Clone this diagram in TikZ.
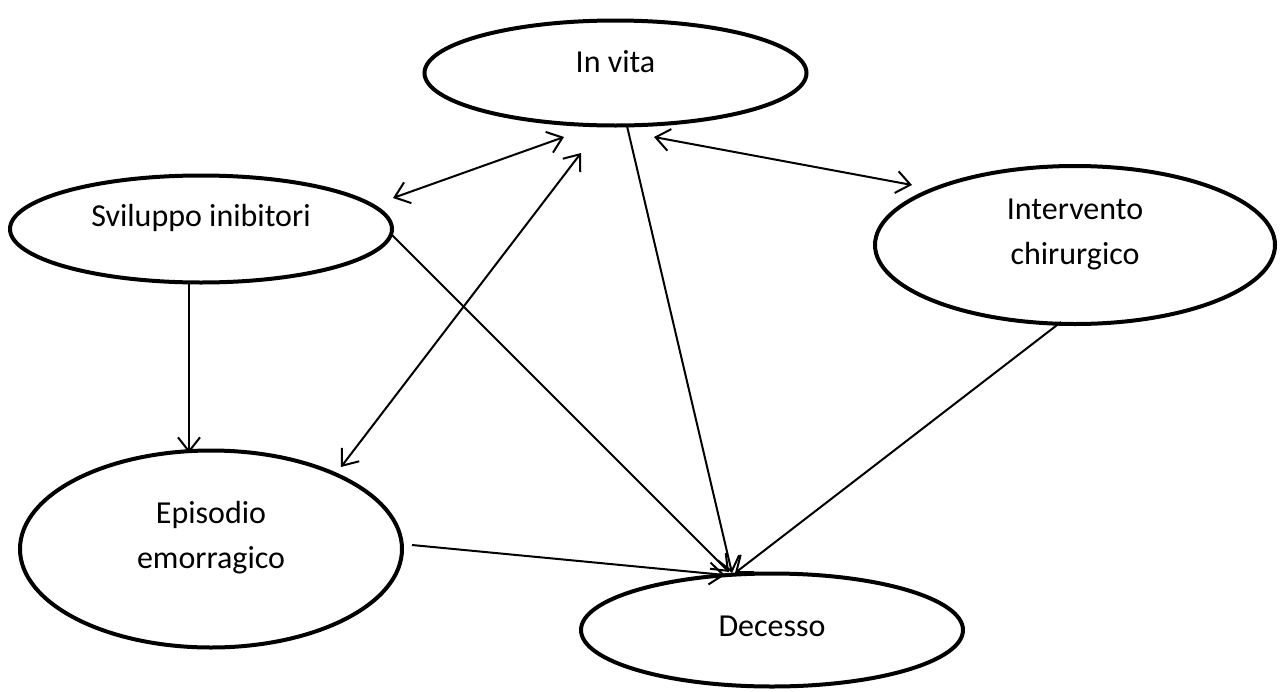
\documentclass[tikz,border=0pt]{standalone}
\usepackage{fontspec}
\setmainfont{Carlito}
\usetikzlibrary{shapes.geometric,arrows.meta,calc}
\begin{document}
\begin{tikzpicture}[x=1pt,y=-1pt,
  ell/.style={draw, ellipse, line width=4pt, inner sep=0pt},
  lbl/.style={align=center, font=\fontsize{32}{45}\selectfont, inner sep=0pt},
  conn/.style={line width=2pt, -{Straight Barb[length=14pt,width=22pt]}},
  bi/.style={line width=2pt, {Straight Barb[length=14pt,width=22pt]}-{Straight Barb[length=14pt,width=22pt]}}]
\useasboundingbox (0,0) rectangle (1280,691);

\node[ell, minimum width=382pt, minimum height=105pt] (iv) at (615.5,73) {};
\node[lbl] (ivt) at ($(iv)+(0,-11)$) {In vita};

\node[ell, minimum width=382pt, minimum height=107pt] (sv) at (201,229) {};
\node[lbl] (svt) at ($(sv)+(0,-11)$) {Sviluppo inibitori};

\node[ell, minimum width=400pt, minimum height=158pt] (iq) at (1075,245) {};
\node[lbl] (iqt) at ($(iq)+(0,-11)$) {Intervento\\chirurgico};

\node[ell, minimum width=382pt, minimum height=197pt] (ep) at (211,549) {};
\node[lbl] (ept) at ($(ep)+(0,-11)$) {Episodio\\emorragico};

\node[ell, minimum width=382pt, minimum height=113pt] (de) at (772,630) {};
\node[lbl] (det) at ($(de)+(0,-4)$) {Decesso};

% bidirectional
\draw[bi] ($(sv)+(192,-31)$) -- ($(iv)+(-51.5,64)$);
\draw[bi] ($(ep)+(130,-82)$) -- ($(iv)+(-34.5,80)$);
\draw[bi] ($(iv)+(38.5,64)$) -- ($(iq)+(-163,-60)$);

% one-way
\draw[conn] ($(iv)+(11.5,53)$) -- ($(de)+(-40,-57)$);
\draw[conn] ($(sv)+(191,6)$) -- ($(de)+(-43,-58)$);
\draw[conn] ($(sv)+(-12,55)$) -- ($(ep)+(-22,-96)$);
\draw[conn] ($(ep)+(201,-4)$) -- ($(de)+(-47,-55)$);
\draw[conn] ($(iq)+(-14,77)$) -- ($(de)+(-37,-57)$);
\end{tikzpicture}
\end{document}
